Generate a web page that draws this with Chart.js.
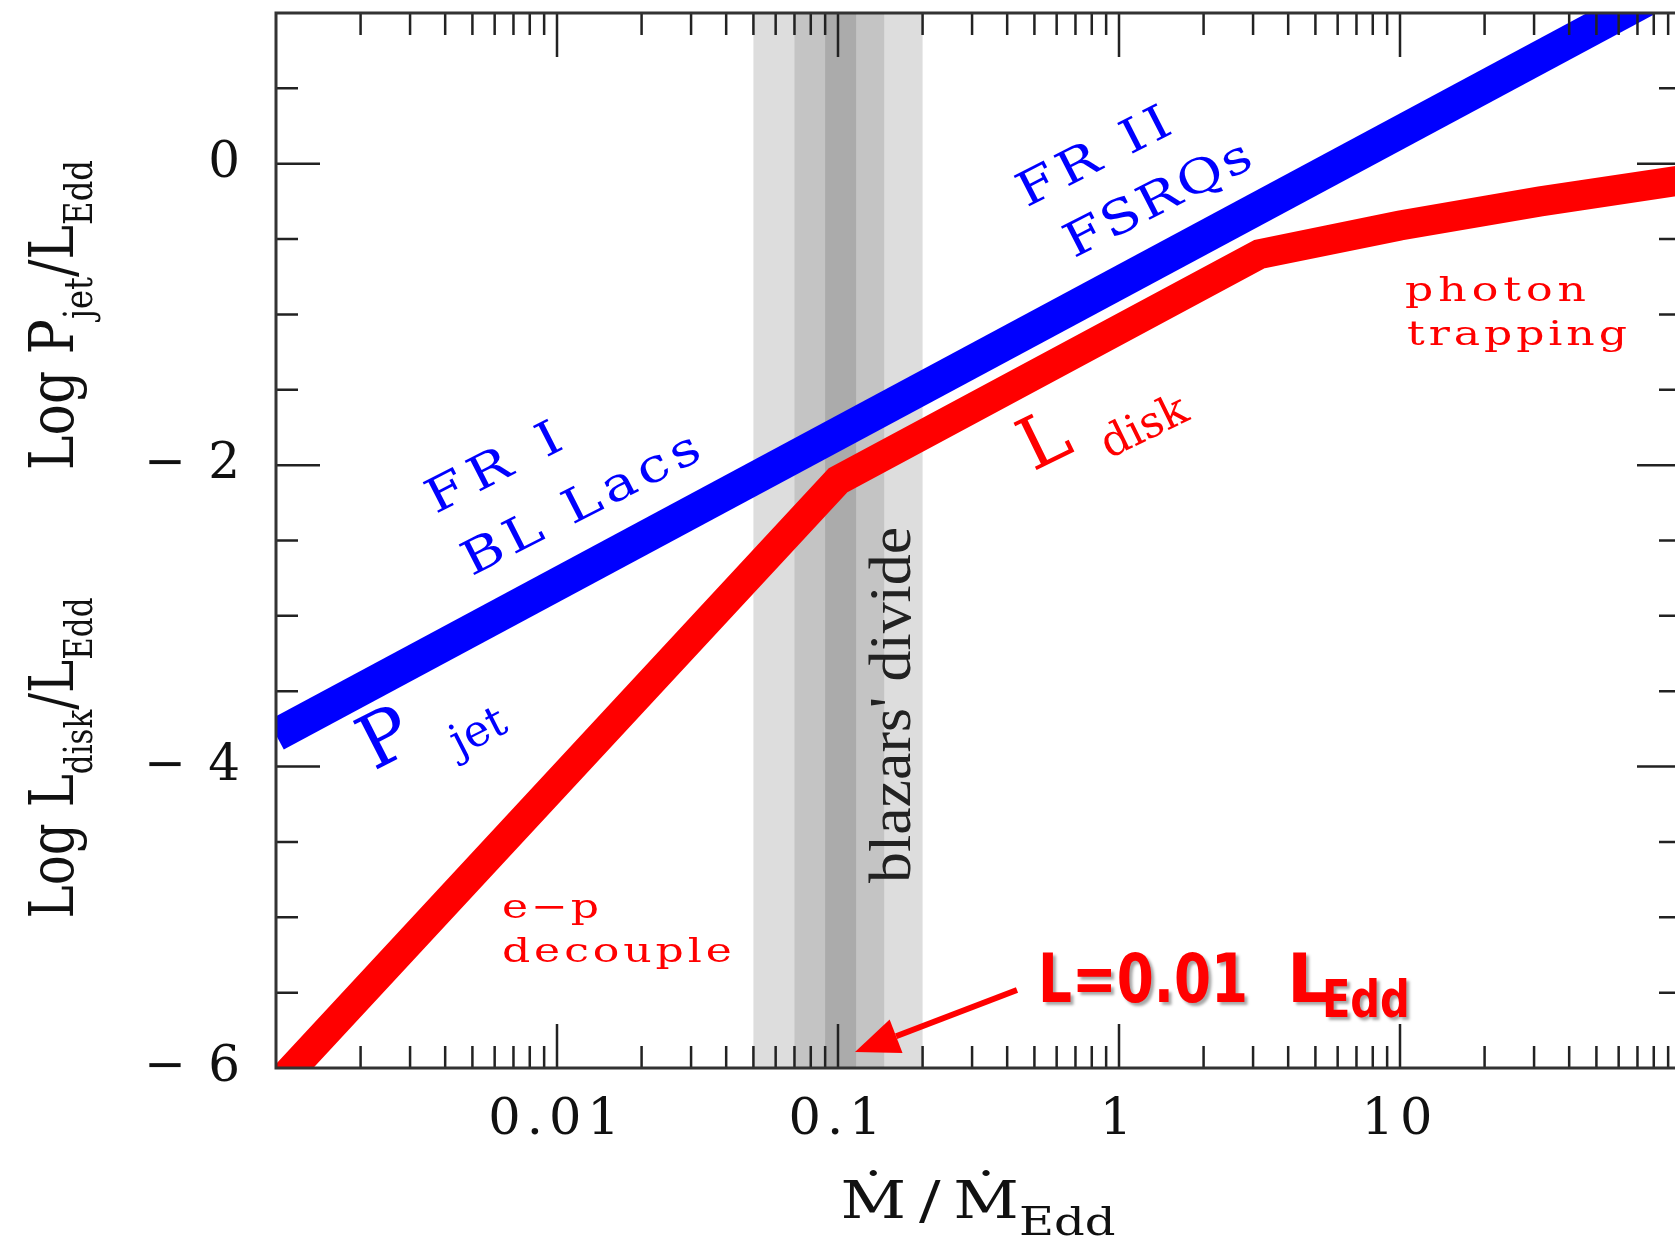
<!DOCTYPE html>
<html><head><meta charset="utf-8">
<script src="https://cdn.jsdelivr.net/npm/chart.js@4.4.1/dist/chart.umd.min.js"></script>
<style>html,body{margin:0;padding:0;overflow:hidden;background:#fff}canvas{display:block}</style>
</head><body>
<canvas id="c" width="1700" height="1241"></canvas>
<script>
// ---- data (x = Mdot/Mdot_Edd, y = log L/L_Edd) ----
const mdotJet  = [0.001, 100];
const logPjet  = [-3.79, 1.21];
const mdotDisk = [0.001, 0.1, 3.16, 10, 31.6, 100];
const logLdisk = [-6.12, -2.1, -0.6, -0.41, -0.25, -0.11];
// blazars' divide shaded ranges in Mdot/Mdot_Edd (outer -> inner)
const divideLo = [0.05, 0.07, 0.09];
const divideHi = [0.2, 0.146, 0.116];
// labelled ticks
const xTickLabels = ['0.01', '0.1', '1', '10'];
const yTickLabels = ['0', '-2', '-4', '-6'];

// ---- styles ----
const BLUE = '#0000ff', RED = '#ff0000';
const bandColors = ['#dddddd', '#c4c4c4', '#ababab'];
const SERIF = '"DejaVu Serif"';
const COMIC = '"Comic Sans MS","DejaVu Sans"';

// in-plot annotations, anchored in data coords [log10(mdot), logL]
const notes = [
  {parts:[{t:'FR I'}], at:[-2.228,-2.006], rot:-27, size:47, width:146, color:BLUE, align:'center', dy:0.36},
  {parts:[{t:'BL Lacs'}], at:[-1.918,-2.245], rot:-27, size:47, width:261, color:BLUE, align:'center', dy:0.36},
  {parts:[{t:'FR II'}], at:[-0.093,0.058], rot:-27, size:47, width:166, color:BLUE, align:'center', dy:0.36},
  {parts:[{t:'FSRQs'}], at:[0.135,-0.221], rot:-27, size:47, width:204, color:BLUE, align:'center', dy:0.36},
  {parts:[{t:'P'}], at:[-2.616,-3.797], rot:-27, size:74, color:BLUE, align:'center', dy:0.36},
  {parts:[{t:'jet'}], at:[-2.274,-3.791], rot:-27, size:44, color:BLUE, align:'center', dy:0.22},
  {parts:[{t:'L'}], at:[-0.270,-1.820], rot:-26, size:72, color:RED, align:'center', dy:0.36},
  {parts:[{t:'disk'}], at:[0.085,-1.727], rot:-26, size:44, color:RED, align:'center', dy:0.38},
  {parts:[{t:'photon'}], at:[1.018,-0.911], rot:0, size:34, width:181, color:RED, align:'left', dy:0, maxScale:1.3},
  {parts:[{t:'trapping'}], at:[1.025,-1.203], rot:0, size:34, width:220, color:RED, align:'left', dy:0, maxScale:1.3},
  {parts:[{t:'e\u2212p'}], at:[-2.196,-5.005], rot:0, size:34, width:97, color:RED, align:'left', dy:0, maxScale:1.3},
  {parts:[{t:'decouple'}], at:[-2.196,-5.297], rot:0, size:34, width:230, color:RED, align:'left', dy:0, maxScale:1.3},
  {parts:[{t:"blazars' divide"}], at:[-0.744,-3.591], rot:-90, size:60, width:356, color:'#222', align:'center', dy:0, family:'"Liberation Serif"'},
  {parts:[{t:'L=0.01'}], at:[-0.288,-5.562], rot:0, size:68, width:210, color:RED, align:'left', dy:0, weight:'bold', family:COMIC, shadow:true},
  {parts:[{t:'L'}], at:[0.598,-5.562], rot:0, size:68, color:RED, align:'left', dy:0, weight:'bold', family:COMIC, shadow:true},
  {parts:[{t:'Edd'}], at:[0.722,-5.662], rot:0, size:52, width:88, color:RED, align:'left', dy:0, weight:'bold', family:COMIC, shadow:true}
];
// arrow from tail to tip, data coords [log10(mdot), logL]
const arrowTail = [-0.363, -5.482];
const arrowTip  = [-0.9395, -5.894];

function drawRich(ctx, parts, x, y, o) {
  ctx.save();
  const size = o.size, subSize = size * (o.subScale || 0.65);
  const fam = o.family || SERIF, wt = o.weight || 'normal';
  const fnt = s => `${wt} ${s}px ${fam}`;
  ctx.letterSpacing = '0px';
  let nat = 0, nch = 0;
  parts.forEach(p => { ctx.font = fnt(p.sub ? subSize : size); nat += ctx.measureText(p.t).width; nch += [...p.t].length; });
  let ls = 0, sx = 1;
  if (o.width) {
    const r = o.width / nat;
    if (r <= 1 || o.fit === 'scale' || nch < 2) sx = r;
    else { sx = Math.min(r, o.maxScale || 1.2); ls = (o.width / sx - nat) / (nch - 1); }
  }
  const total = nat + ls * (nch - 1);
  ctx.translate(x, y);
  ctx.rotate((o.rot || 0) * Math.PI / 180);
  ctx.scale(sx, 1);
  ctx.letterSpacing = ls + 'px';
  ctx.textAlign = 'left'; ctx.textBaseline = 'alphabetic';
  ctx.fillStyle = o.color || '#111';
  if (o.shadow) { ctx.shadowColor = 'rgba(0,0,0,0.35)'; ctx.shadowOffsetX = 3; ctx.shadowOffsetY = 3; ctx.shadowBlur = 3; }
  let cx = o.align === 'center' ? -total / 2 : 0;
  const dy = (o.dy || 0) * size;
  parts.forEach(p => {
    ctx.font = fnt(p.sub ? subSize : size);
    ctx.fillText(p.t, cx, dy + (p.sub ? size * (o.subShift || 0.3) : 0));
    cx += ctx.measureText(p.t).width;
  });
  ctx.restore();
}

const decor = {
  id: 'decor',
  beforeDraw(chart) { chart.ctx.letterSpacing = '6px'; },
  beforeDatasetsDraw(chart) {
    const {ctx, chartArea: a, scales: {x: xs}} = chart;
    ctx.save();
    ctx.letterSpacing = '0px';
    divideLo.forEach((lo, i) => {
      const x1 = xs.getPixelForValue(lo), x2 = xs.getPixelForValue(divideHi[i]);
      ctx.fillStyle = bandColors[i];
      ctx.fillRect(x1, a.top, x2 - x1, a.bottom - a.top);
    });
    ctx.restore();
  },
  afterDatasetsDraw(chart) {
    const {ctx, chartArea: a, scales: {x: xs, y: ys}} = chart;
    ctx.save();
    ctx.letterSpacing = '0px';
    // tick marks (inside, all four sides)
    ctx.strokeStyle = '#222'; ctx.lineWidth = 2.5;
    ctx.beginPath();
    for (let d = -3; d <= 1; d++) for (let k = 1; k <= 9; k++) {
      const v = k * Math.pow(10, d);
      if (v <= xs.min * 1.0001 || v >= xs.max * 0.9999) continue;
      const px = xs.getPixelForValue(v), len = k === 1 ? 44 : 22;
      ctx.moveTo(px, a.bottom); ctx.lineTo(px, a.bottom - len);
      ctx.moveTo(px, a.top); ctx.lineTo(px, a.top + len);
    }
    for (let v = -5.5; v < 1; v += 0.5) {
      const py = ys.getPixelForValue(v), len = (Math.abs(v % 2) < 1e-9) ? 44 : 22;
      ctx.moveTo(a.left, py); ctx.lineTo(a.left + len, py);
      ctx.moveTo(a.right, py); ctx.lineTo(a.right - len, py);
    }
    ctx.stroke();
    // frame
    ctx.strokeStyle = '#333'; ctx.lineWidth = 3;
    ctx.strokeRect(a.left, a.top, a.right - a.left, a.bottom - a.top);
    ctx.restore();

    // arrow
    const P = c => [xs.getPixelForValue(Math.pow(10, c[0])), ys.getPixelForValue(c[1])];
    const [tx, ty] = P(arrowTail), [hx, hy] = P(arrowTip);
    const ang = Math.atan2(hy - ty, hx - tx), hl = 44, hw = 18;
    const bx = hx - hl * Math.cos(ang), by = hy - hl * Math.sin(ang);
    ctx.save();
    ctx.strokeStyle = RED; ctx.fillStyle = RED; ctx.lineWidth = 6;
    ctx.beginPath(); ctx.moveTo(tx, ty); ctx.lineTo(bx, by); ctx.stroke();
    ctx.beginPath(); ctx.moveTo(hx, hy);
    ctx.lineTo(bx + hw * Math.sin(ang), by - hw * Math.cos(ang));
    ctx.lineTo(bx - hw * Math.sin(ang), by + hw * Math.cos(ang));
    ctx.closePath(); ctx.fill();
    ctx.restore();

    // annotations
    notes.forEach(n => {
      const [px, py] = P(n.at);
      drawRich(ctx, n.parts, px, py, n);
    });

    // axis titles
    drawRich(ctx, [{t:'Log P'},{t:'jet',sub:1},{t:'/L'},{t:'Edd',sub:1}], 73, 315,
      {rot:-90, size:62, width:310, align:'center', color:'#111', subScale:0.62, subShift:0.3});
    drawRich(ctx, [{t:'Log L'},{t:'disk',sub:1},{t:'/L'},{t:'Edd',sub:1}], 73, 758,
      {rot:-90, size:62, width:321, align:'center', color:'#111', subScale:0.62, subShift:0.3});
    drawRich(ctx, [{t:'\u1E40'},{t:'\u2009/\u2009'},{t:'\u1E40'},{t:'Edd',sub:1}], 978, 1218,
      {rot:0, size:52, width:275, align:'center', color:'#111', subScale:0.75, subShift:0.32, fit:'scale'});
  }
};

new Chart(document.getElementById('c'), {
  type: 'line',
  data: {
    datasets: [
      {label: 'P_jet', data: mdotJet.map((x, i) => ({x, y: logPjet[i]})), borderColor: BLUE,
       borderWidth: 33, pointRadius: 0, tension: 0, clip: 0, borderCapStyle: 'butt', borderJoinStyle: 'miter'},
      {label: 'L_disk', data: mdotDisk.map((x, i) => ({x, y: logLdisk[i]})), borderColor: RED,
       borderWidth: 30, pointRadius: 0, tension: 0, clip: 0, borderCapStyle: 'butt', borderJoinStyle: 'miter'}
    ]
  },
  options: {
    responsive: false, animation: false, devicePixelRatio: 1,
    layout: {padding: {top: 13, right: 19, left: 0, bottom: 0}},
    plugins: {legend: {display: false}, tooltip: {enabled: false}},
    scales: {
      x: {
        type: 'logarithmic', min: 0.001, max: 100,
        grid: {display: false, drawTicks: false}, border: {display: false},
        ticks: {
          autoSkip: false, maxRotation: 0, minRotation: 0, padding: 22, color: '#111',
          font: {family: 'DejaVu Serif', size: 51},
          callback: v => { const s = xTickLabels.find(s => Math.abs(parseFloat(s) - v) < 1e-6 * Math.max(v, 1e-3)); return s || ''; }
        },
        afterFit: s => { s.height = 173; s.paddingLeft = 0; s.paddingRight = 0; s.paddingTop = 0; s.paddingBottom = 0; }
      },
      y: {
        type: 'linear', min: -6, max: 1,
        grid: {display: false, drawTicks: false}, border: {display: false},
        ticks: {
          stepSize: 1, padding: 30, color: '#111',
          font: {family: 'DejaVu Serif', size: 50},
          callback: v => { const s = yTickLabels.find(s => parseFloat(s) === v); return s === undefined ? '' : (v < 0 ? '\u2212\u2009' + Math.abs(v) : s); }
        },
        afterFit: s => { s.width = 276; s.paddingLeft = 0; s.paddingRight = 0; s.paddingTop = 0; s.paddingBottom = 0; }
      }
    }
  },
  plugins: [decor]
});
</script>
</body></html>
